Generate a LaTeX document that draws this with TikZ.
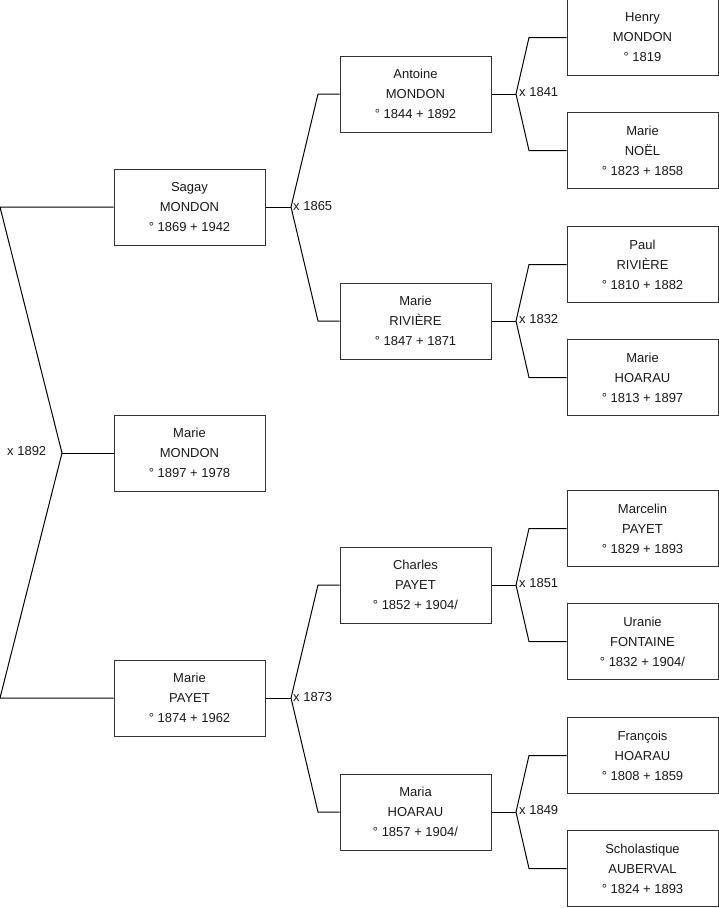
\documentclass[tikz,border=0pt]{standalone}
\usepackage{fontspec}
\setmainfont{Liberation Sans}
\begin{document}
\begin{tikzpicture}[x=1pt,y=-1pt,
  person/.style={draw=black!80, line width=1pt, minimum width=151pt, minimum height=76pt, inner sep=0pt, align=center, font=\fontsize{13}{20}\selectfont, text=black!90},
  link/.style={draw=black, line width=1pt},
  wed/.style={anchor=west, inner sep=0pt, font=\fontsize{13}{16}\selectfont, text=black!90}]
\useasboundingbox (0,0) rectangle (719,908);
% level 1
\node[person] (sagay) at (189.5,207) {Sagay\\MONDON\\° 1869 + 1942};
\node[person] (mariem) at (189.5,453) {Marie\\MONDON\\° 1897 + 1978};
\node[person] (mariep) at (189.5,698) {Marie\\PAYET\\° 1874 + 1962};
% level 2
\node[person] (antoine) at (415.5,94) {Antoine\\MONDON\\° 1844 + 1892};
\node[person] (marier) at (415.5,321) {Marie\\RIVIÈRE\\° 1847 + 1871};
\node[person] (charles) at (415.5,585) {Charles\\PAYET\\° 1852 + 1904/};
\node[person] (maria) at (415.5,812) {Maria\\HOARAU\\° 1857 + 1904/};
% level 3
\node[person] (henry) at (642.5,37.5) {Henry\\MONDON\\° 1819};
\node[person] (marien) at (642.5,150.5) {Marie\\NOËL\\° 1823 + 1858};
\node[person] (paul) at (642.5,264.5) {Paul\\RIVIÈRE\\° 1810 + 1882};
\node[person] (marieh) at (642.5,377.5) {Marie\\HOARAU\\° 1813 + 1897};
\node[person] (marcelin) at (642.5,528.5) {Marcelin\\PAYET\\° 1829 + 1893};
\node[person] (uranie) at (642.5,641.5) {Uranie\\FONTAINE\\° 1832 + 1904/};
\node[person] (francois) at (642.5,755.5) {François\\HOARAU\\° 1808 + 1859};
\node[person] (scho) at (642.5,868.5) {Scholastique\\AUBERVAL\\° 1824 + 1893};
% root fork
\coordinate (r1) at (0,207);
\coordinate (rj) at (62,453);
\coordinate (r2) at (0,698);
\draw[link] (sagay.west) -- (r1) -- (rj) -- (r2) -- (mariep.west);
\draw[link] (rj) -- (mariem.west);
\node[wed] (w1892) at (7,451) {x 1892};
% level 1 -> 2
\coordinate (sj) at (291,207);
\coordinate (sa) at (318,94);
\coordinate (sb) at (318,321);
\draw[link] (sagay.east) -- (sj);
\draw[link] (antoine.west) -- (sa) -- (sj) -- (sb) -- (marier.west);
\node[wed] (w1865) at (293,206) {x 1865};
\coordinate (pj) at (291,698);
\coordinate (pa) at (318,585);
\coordinate (pb) at (318,812);
\draw[link] (mariep.east) -- (pj);
\draw[link] (charles.west) -- (pa) -- (pj) -- (pb) -- (maria.west);
\node[wed] (w1873) at (293,697) {x 1873};
% level 2 -> 3
\coordinate (aj) at (516,94);
\coordinate (aa) at (529,37.5);
\coordinate (ab) at (529,150.5);
\draw[link] (antoine.east) -- (aj);
\draw[link] (henry.west) -- (aa) -- (aj) -- (ab) -- (marien.west);
\node[wed] (w1841) at (519,92) {x 1841};
\coordinate (mj) at (516,321);
\coordinate (ma) at (529,264.5);
\coordinate (mb) at (529,377.5);
\draw[link] (marier.east) -- (mj);
\draw[link] (paul.west) -- (ma) -- (mj) -- (mb) -- (marieh.west);
\node[wed] (w1832) at (519,319) {x 1832};
\coordinate (cj) at (516,585);
\coordinate (ca) at (529,528.5);
\coordinate (cb) at (529,641.5);
\draw[link] (charles.east) -- (cj);
\draw[link] (marcelin.west) -- (ca) -- (cj) -- (cb) -- (uranie.west);
\node[wed] (w1851) at (519,583) {x 1851};
\coordinate (hj) at (516,812);
\coordinate (ha) at (529,755.5);
\coordinate (hb) at (529,868.5);
\draw[link] (maria.east) -- (hj);
\draw[link] (francois.west) -- (ha) -- (hj) -- (hb) -- (scho.west);
\node[wed] (w1849) at (519,810) {x 1849};
\end{tikzpicture}
\end{document}
